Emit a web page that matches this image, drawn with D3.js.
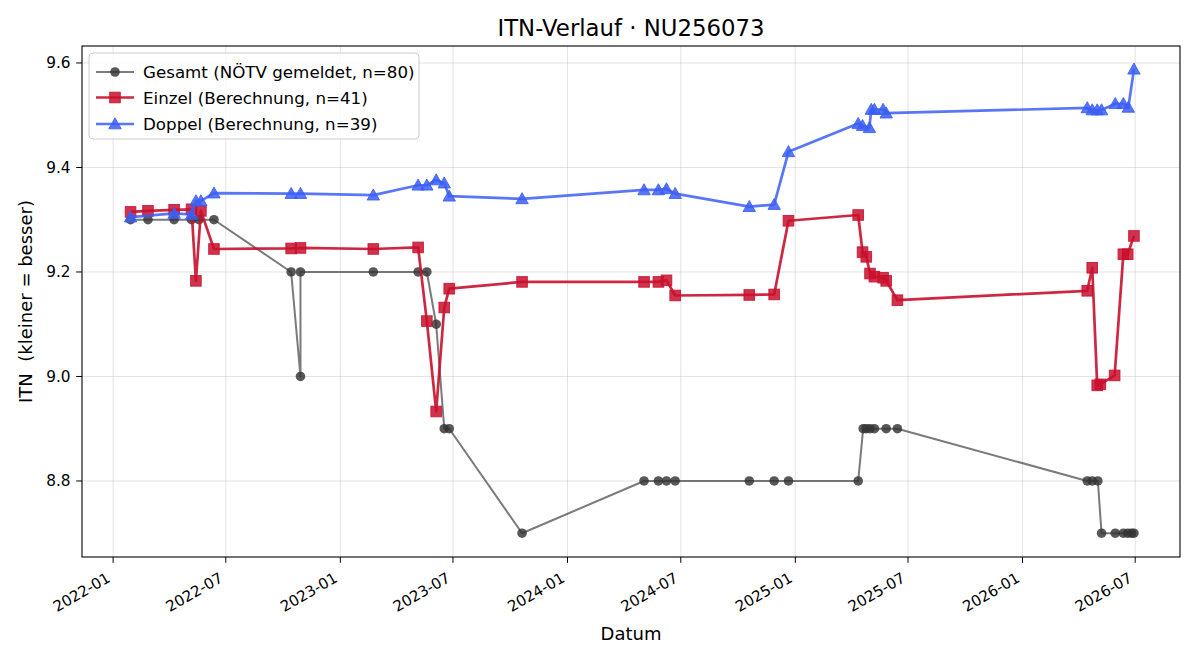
<!DOCTYPE html>
<html>
<head>
<meta charset="utf-8">
<script src="https://cdn.jsdelivr.net/npm/d3@7"></script>
<style>
  body { margin: 0; background: #fff; }
  svg { display: block; font-family: "DejaVu Sans", sans-serif; }
</style>
</head>
<body>
<svg id="chart" width="1200" height="660"></svg>
<script>
// ---- data ----
const gesamtDates = ["2022-01-29","2022-02-26","2022-04-09","2022-05-07","2022-05-19","2022-06-12","2022-10-14","2022-10-29","2022-10-29","2023-02-23","2023-05-06","2023-05-20","2023-06-04","2023-06-17","2023-06-25","2023-10-20","2024-05-03","2024-05-26","2024-06-08","2024-06-22","2024-10-19","2024-11-28","2024-12-21","2025-04-12","2025-04-20","2025-04-25","2025-05-01","2025-05-08","2025-05-27","2025-06-14","2026-04-15","2026-04-23","2026-05-02","2026-05-08","2026-05-30","2026-06-12","2026-06-19","2026-06-25","2026-06-29"];
const gesamtValues = [9.3,9.3,9.3,9.3,9.3,9.3,9.2,9.0,9.2,9.2,9.2,9.2,9.1,8.9,8.9,8.7,8.8,8.8,8.8,8.8,8.8,8.8,8.8,8.8,8.9,8.9,8.9,8.9,8.9,8.9,8.8,8.8,8.8,8.7,8.7,8.7,8.7,8.7,8.7];

const einzelDates = ["2022-01-29","2022-02-26","2022-04-09","2022-05-07","2022-05-14","2022-05-22","2022-06-12","2022-10-14","2022-10-29","2023-02-23","2023-05-06","2023-05-20","2023-06-04","2023-06-17","2023-06-25","2023-10-20","2024-05-03","2024-05-26","2024-06-08","2024-06-22","2024-10-19","2024-11-28","2024-12-21","2025-04-12","2025-04-19","2025-04-25","2025-05-01","2025-05-08","2025-05-22","2025-05-27","2025-06-14","2026-04-15","2026-04-23","2026-05-01","2026-05-06","2026-05-29","2026-06-12","2026-06-19","2026-06-29"];
const einzelValues = [9.315,9.317,9.319,9.320,9.183,9.317,9.244,9.245,9.246,9.244,9.247,9.106,8.933,9.132,9.168,9.181,9.181,9.181,9.184,9.155,9.156,9.157,9.298,9.309,9.238,9.229,9.197,9.191,9.189,9.183,9.146,9.164,9.208,8.983,8.985,9.002,9.234,9.234,9.269];

const doppelDates = ["2022-01-29","2022-04-09","2022-05-07","2022-05-14","2022-05-22","2022-06-12","2022-10-14","2022-10-29","2023-02-23","2023-05-06","2023-05-20","2023-06-04","2023-06-17","2023-06-25","2023-10-20","2024-05-03","2024-05-26","2024-06-08","2024-06-22","2024-10-19","2024-11-28","2024-12-21","2025-04-12","2025-04-19","2025-04-30","2025-05-03","2025-05-08","2025-05-22","2025-05-27","2026-04-15","2026-04-23","2026-05-01","2026-05-08","2026-05-30","2026-06-12","2026-06-20","2026-06-29"];
const doppelValues = [9.305,9.312,9.310,9.336,9.336,9.351,9.350,9.350,9.347,9.366,9.366,9.376,9.370,9.345,9.340,9.357,9.357,9.359,9.350,9.325,9.329,9.430,9.484,9.480,9.476,9.511,9.511,9.511,9.504,9.514,9.510,9.510,9.510,9.522,9.522,9.515,9.588];

const yTicks = [8.8, 9.0, 9.2, 9.4, 9.6];
const seriesLabels = ["Gesamt (NÖTV gemeldet, n=80)", "Einzel (Berechnung, n=41)", "Doppel (Berechnung, n=39)"];
const titleText = "ITN-Verlauf · NU256073";
const xLabel = "Datum";
const yLabel = "ITN  (kleiner = besser)";

// ---- layout ----
const svg = d3.select("#chart");
const L = 82, R = 1180, T = 46, B = 557;
const parse = d3.utcParse("%Y-%m-%d");

const x = d3.scaleUtc()
  .domain([parse("2021-11-12"), parse("2026-09-11")])
  .range([L, R]);
const y = d3.scaleLinear().domain([8.6545, 9.6325]).range([B, T]);

const mk = (dates, vals) => dates.map((d, i) => ({ d: parse(d), v: vals[i] }));
const series = [
  { key: "g", data: mk(gesamtDates, gesamtValues), color: "#333333", lineOp: 0.65, mOp: 0.82, width: 2.0, shape: "circle" },
  { key: "e", data: mk(einzelDates, einzelValues), color: "#c8102e", lineOp: 0.9, mOp: 0.85, width: 2.7, shape: "square" },
  { key: "d", data: mk(doppelDates, doppelValues), color: "#3b5ef5", lineOp: 0.85, mOp: 0.85, width: 2.7, shape: "triangle" }
];

// grid
const xTicks = x.ticks(d3.utcMonth.every(6));
const grid = svg.append("g");
grid.selectAll("line.gx").data(xTicks).join("line")
  .attr("x1", d => x(d)).attr("x2", d => x(d)).attr("y1", T).attr("y2", B)
  .attr("stroke", "#b0b0b0").attr("stroke-opacity", 0.35).attr("stroke-width", 1);
grid.selectAll("line.gy").data(yTicks).join("line")
  .attr("x1", L).attr("x2", R).attr("y1", d => y(d)).attr("y2", d => y(d))
  .attr("stroke", "#b0b0b0").attr("stroke-opacity", 0.35).attr("stroke-width", 1);

// symbols
function drawMarker(g, shape, cx, cy, color, op) {
  if (shape === "circle") {
    g.append("circle").attr("cx", cx).attr("cy", cy).attr("r", 4.8)
      .attr("fill", color).attr("fill-opacity", op);
  } else if (shape === "square") {
    g.append("rect").attr("x", cx - 5.3).attr("y", cy - 5.3).attr("width", 10.6).attr("height", 10.6)
      .attr("fill", color).attr("fill-opacity", op).attr("stroke", color).attr("stroke-opacity", op).attr("stroke-width", 1);
  } else {
    const h = 6.2;
    g.append("path").attr("d", `M${cx},${cy - h} L${cx + h},${cy + h * 0.78} L${cx - h},${cy + h * 0.78} Z`)
      .attr("fill", color).attr("fill-opacity", op).attr("stroke", color).attr("stroke-opacity", op).attr("stroke-width", 1);
  }
}

const line = d3.line().x(d => x(d.d)).y(d => y(d.v));
const plot = svg.append("g");
series.forEach(s => {
  const g = plot.append("g");
  g.append("path").datum(s.data).attr("d", line)
    .attr("fill", "none").attr("stroke", s.color).attr("stroke-opacity", s.lineOp)
    .attr("stroke-width", s.width).attr("stroke-linejoin", "round");
  s.data.forEach(p => drawMarker(g, s.shape, x(p.d), y(p.v), s.color, s.mOp));
});

// frame
svg.append("rect").attr("x", L).attr("y", T).attr("width", R - L).attr("height", B - T)
  .attr("fill", "none").attr("stroke", "#000").attr("stroke-width", 1.1);

// x axis ticks + labels
const fmt = d3.utcFormat("%Y-%m");
const xa = svg.append("g");
xTicks.forEach(t => {
  const px = x(t);
  xa.append("line").attr("x1", px).attr("x2", px).attr("y1", B).attr("y2", B + 5.8).attr("stroke", "#000").attr("stroke-width", 1);
  xa.append("text").attr("transform", `translate(${px - 1.8},${B + 24}) rotate(-30)`)
    .attr("text-anchor", "end").attr("font-size", 15).attr("fill", "#000").text(fmt(t));
});
// y axis
const ya = svg.append("g");
yTicks.forEach(t => {
  const py = y(t);
  ya.append("line").attr("x1", L - 5.8).attr("x2", L).attr("y1", py).attr("y2", py).attr("stroke", "#000").attr("stroke-width", 1);
  ya.append("text").attr("x", L - 11.5).attr("y", py + 5.5).attr("text-anchor", "end")
    .attr("font-size", 15.3).attr("fill", "#000").text(d3.format(".1f")(t));
});

// labels
const cx = (L + R) / 2;
svg.append("text").attr("x", cx).attr("y", 36).attr("text-anchor", "middle")
  .attr("font-size", 22.8).attr("fill", "#000").text(titleText);
svg.append("text").attr("x", cx).attr("y", 640).attr("text-anchor", "middle")
  .attr("font-size", 18).attr("fill", "#000").text(xLabel);
svg.append("text").attr("transform", `translate(32,${(T + B) / 2}) rotate(-90)`).attr("text-anchor", "middle")
  .attr("font-size", 18).attr("fill", "#000").attr("xml:space", "preserve").style("white-space", "pre").text(yLabel);

// legend
const lg = svg.append("g");
lg.append("rect").attr("x", 89).attr("y", 53).attr("width", 330).attr("height", 86).attr("rx", 4)
  .attr("fill", "#fff").attr("fill-opacity", 0.8).attr("stroke", "#cccccc").attr("stroke-width", 1);
const rowY = [72, 97.5, 124];
series.forEach((s, i) => {
  const yy = rowY[i];
  lg.append("line").attr("x1", 96).attr("x2", 134).attr("y1", yy).attr("y2", yy)
    .attr("stroke", s.color).attr("stroke-opacity", s.lineOp).attr("stroke-width", s.width);
  drawMarker(lg, s.shape, 115, yy, s.color, s.mOp);
  lg.append("text").attr("x", 143).attr("y", yy + 6).attr("font-size", 16.7).attr("fill", "#000").text(seriesLabels[i]);
});
</script>
</body>
</html>
